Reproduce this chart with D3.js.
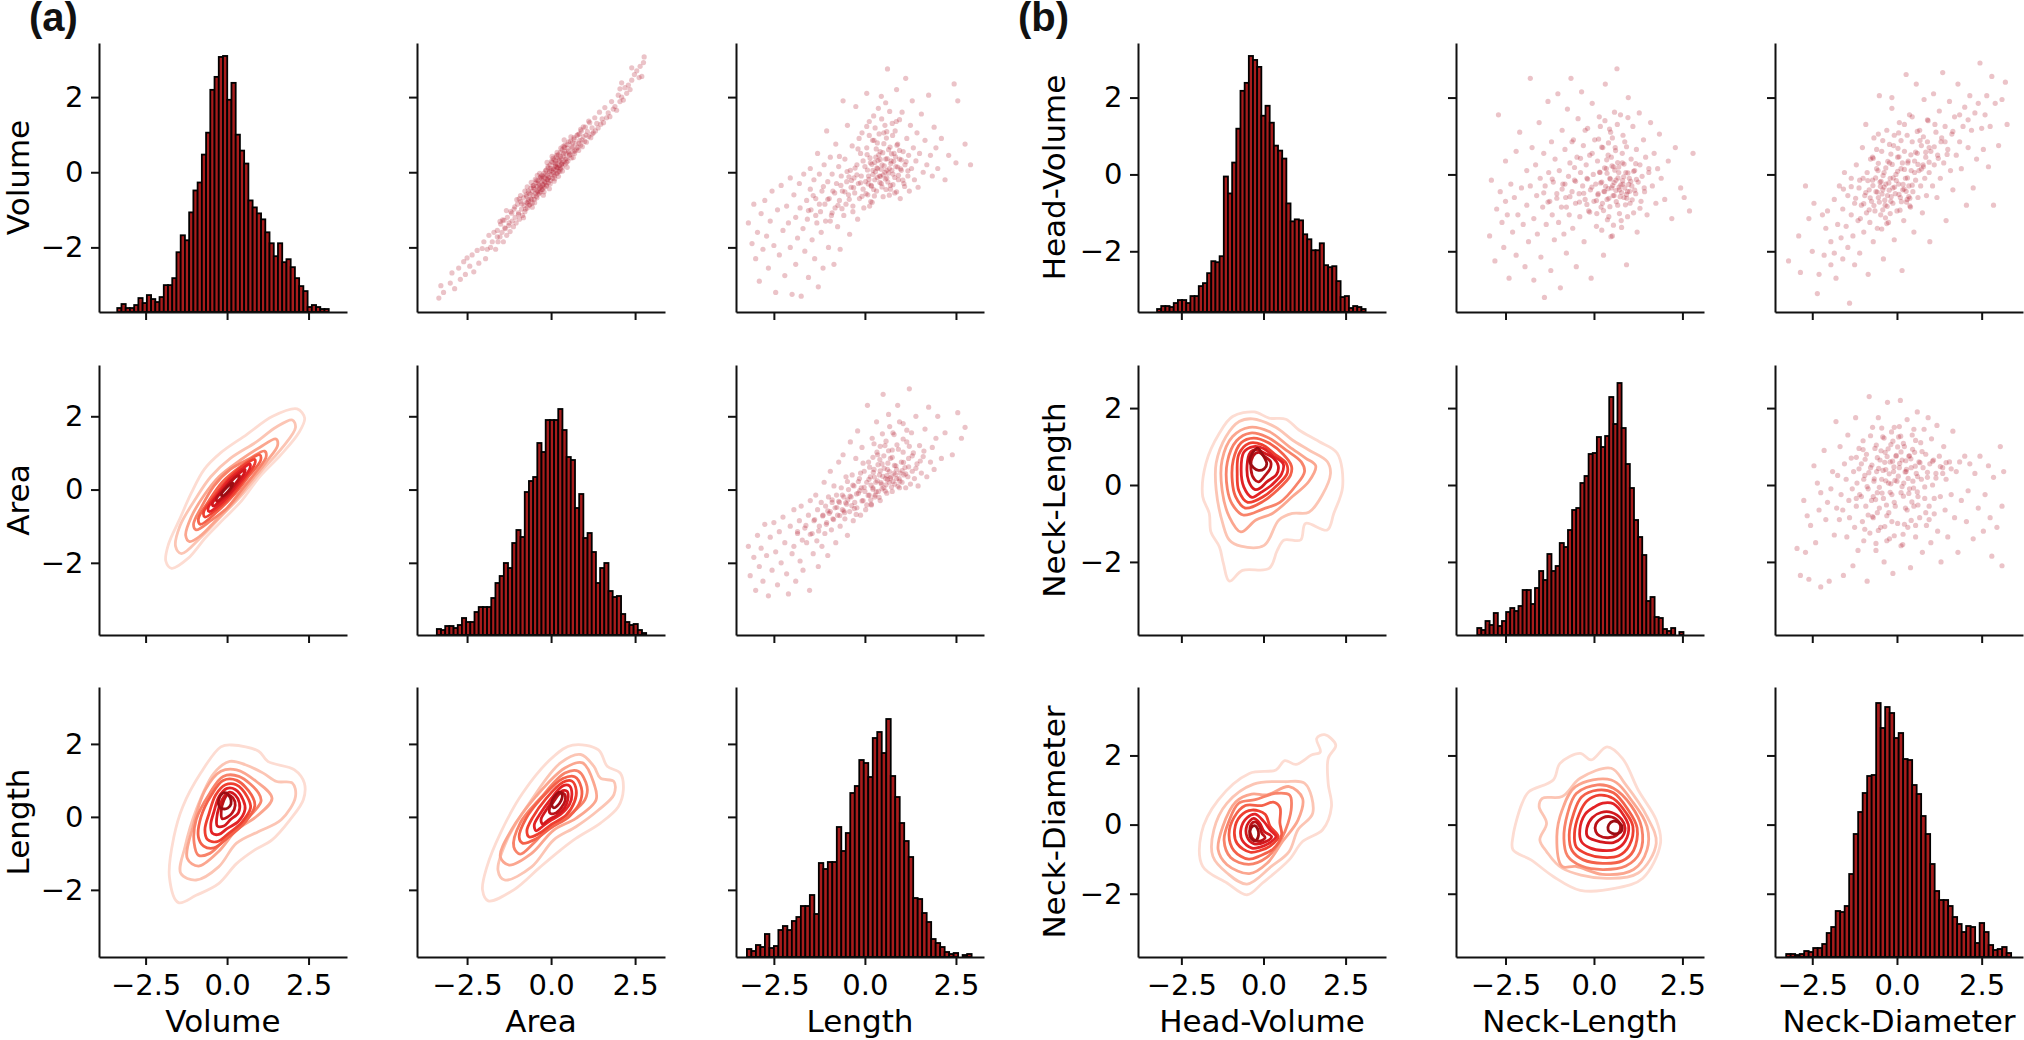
<!DOCTYPE html>
<html><head><meta charset="utf-8">
<script src="https://cdn.jsdelivr.net/npm/d3@7"></script>
<style>html,body{margin:0;background:#fff}svg{display:block}</style></head><body>
<svg id="c" width="2024" height="1040"></svg>
<script>
// ---------- labels and ticks
const variablesA=["Volume","Area","Length"];
const variablesB=["Head-Volume","Neck-Length","Neck-Diameter"];
const panelLetters=["(a)","(b)"];
const xTickValues=[-2.5,0,2.5];
const yTickValues=[-2,0,2];
// ---------- axis limits
const xLimits=[[-3.93,3.68],[-3.99,3.39],[-3.54,3.27],[-3.82,3.73],[-3.90,3.11],[-3.60,3.72]];
const yLimitsA=[[-3.72,3.44],[-3.97,3.40],[-3.84,3.56]];
const yLimitsB=[[-3.58,3.42],[-3.90,3.12],[-3.83,3.98]];
// ---------- histograms: bin range and bar heights
const histRangeVolume=[-3.37,3.12];
const histVolume=[4,8,4,4,7,14,9,17,13,10,15,27,27,34,60,77,72,100,122,130,158,180,223,236,256,257,213,230,178,162,149,112,105,99,93,80,69,56,69,50,53,45,34,26,21,5,7,5,3,3];
const histRangeArea=[-3.40,2.83];
const histArea=[6,5,9,9,7,10,17,13,13,23,28,28,28,37,52,59,72,67,92,105,98,143,154,158,192,183,215,215,215,226,205,178,175,127,141,97,102,83,52,67,72,44,38,39,21,13,10,11,5,2];
const histRangeLength=[-3.24,2.93];
const histLength=[8,6,12,10,23,9,11,27,31,27,36,40,51,51,62,43,94,88,95,95,130,106,124,164,171,197,194,180,219,225,204,238,181,160,134,116,100,59,58,44,35,18,14,10,5,3,4,0,2,3];
const histRangeHeadVolume=[-3.24,3.11];
const histHeadVolume=[3,6,6,5,9,12,12,9,16,16,26,29,39,51,50,56,136,119,150,184,222,230,257,253,246,197,207,190,167,162,154,109,91,93,92,78,73,62,62,69,47,45,46,31,15,16,4,6,5,3];
const histRangeNeckLength=[-3.30,2.53];
const histNeckLength=[7,5,14,10,22,9,14,23,27,24,29,45,45,31,47,64,55,81,64,69,92,88,105,125,127,152,159,181,182,198,188,199,238,211,252,207,171,147,115,98,80,34,38,18,17,6,4,7,0,3];
const histRangeNeckDiameter=[-3.27,3.37];
const histNeckDiameter=[3,3,2,3,6,5,9,9,13,24,30,46,45,51,83,123,145,164,181,182,254,229,250,244,219,224,198,197,172,163,141,123,93,66,57,57,51,40,33,25,31,30,14,34,25,12,7,8,10,4];
// ---------- contour rings, outermost first, flat x,y lists
const kdeAreaVolume=[
[-1.7,-2.15,-1.88,-1.95,-1.8,-1.5,-1.45,-.8,-1.1,-.1,-.7,.55,-.2,1,.6,1.5,1.4,2,2.15,2.2,2.38,1.95,2.2,1.55,1.65,.95,1,.35,.45,-.3,-.1,-.8,-.65,-1.3,-1.2,-1.88],
[-1.4,-1.75,-1.58,-1.55,-1.45,-1,-1,-.3,-.5,.35,.1,.85,.9,1.3,1.5,1.7,2,1.9,2.1,1.7,1.7,1.15,1.1,.55,.5,-.1,-.2,-.75,-.8,-1.3],
[-1.15,-1.42,-1.27,-1.25,-1.1,-.75,-.7,-.15,-.25,.35,.4,.8,1,1.15,1.5,1.38,1.55,1.2,1.2,.75,.7,.2,.2,-.35,-.35,-.85,-.8,-1.25],
[-.95,-1.1,-1.03,-.95,-.8,-.5,-.4,.1,.1,.55,.7,.85,1.15,1.05,1.2,.9,.9,.5,.45,0,0,-.5,-.5,-.85],
[-.82,-.95,-.88,-.8,-.55,-.3,-.15,.2,.4,.62,1,.95,1.03,.8,.65,.35,.25,-.1,-.3,-.6],
[-.68,-.75,-.72,-.62,-.4,-.2,0,.25,.45,.62,.85,.82,.85,.7,.5,.25,.15,-.15,-.3,-.52],
[-.55,-.6,-.58,-.5,-.3,-.15,.05,.25,.45,.55,.7,.7,.7,.58,.4,.2,.1,-.12,-.25,-.42],
[-.42,-.45,-.45,-.38,-.2,-.08,.1,.22,.4,.46,.55,.55,.53,.45,.3,.15,.08,-.1,-.2,-.3],
[-.3,-.32,-.33,-.26,-.12,-.02,.1,.2,.3,.36,.38,.38,.35,.28,.18,.08,.02,-.1,-.15,-.22],
[-.15,-.18,-.17,-.12,-.03,.04,.1,.15,.17,.18,.15,.1,.03,-.05]];
const kdeLengthVolume=[
[-1.49,-2.35,-1.77,-1.64,-1.63,-.54,-1.36,.28,-.81,1.2,-.19,1.92,.15,1.97,.97,1.8,1.25,1.52,2.07,1.29,2.37,.93,2.34,.47,1.93,-.08,1.38,-.63,.84,-.91,.29,-1.28,-.26,-1.83,-.95,-2.15],
[-.95,-1.73,-1.42,-1.55,-1.29,-.82,-.95,.19,-.4,1.2,.08,1.52,.56,1.43,1.11,1.2,1.52,.97,2,.93,2.1,.56,1.66,-.08,.97,-.4,.29,-.72,-.26,-1.37],
[-.88,-1.35,-1.22,-1.14,-1.05,-.27,-.67,.74,-.19,1.25,.29,1.29,.9,.97,1.38,.51,.9,.01,.29,-.36,-.26,-.95],
[-.88,-1.05,-1.01,-.72,-.95,-.08,-.53,.65,-.12,1.11,.36,1.11,.97,.65,1.04,.42,.63,-.04,.01,-.54,-.53,-1],
[-.72,-.8,-.88,-.55,-.8,0,-.48,.6,-.12,1,.3,1,.75,.6,.85,.3,.55,-.15,.05,-.55,-.4,-.85],
[-.6,-.62,-.68,-.35,-.55,.1,-.35,.6,-.05,.88,.28,.88,.62,.55,.72,.25,.45,-.15,.05,-.45,-.3,-.68],
[-.45,-.45,-.5,-.2,-.4,.15,-.25,.55,0,.78,.25,.75,.5,.45,.55,.2,.35,-.12,0,-.32,-.25,-.48],
[-.3,-.25,-.32,-.05,-.25,.25,-.1,.55,.08,.68,.25,.6,.38,.38,.35,.12,.1,-.08,-.1,-.25],
[-.15,-.05,-.18,.15,-.1,.45,.02,.6,.18,.52,.25,.32,.15,.1,.02,0],
[-.24,.28,-.26,.45,-.15,.64,-.03,.66,.1,.52,.12,.35,.02,.24,-.12,.22]];
const kdeLengthArea=[
[-1.87,-2.3,-2.04,-2,-1.91,-1.37,-1.51,-.45,-.85,.65,.08,1.66,.64,1.97,1.41,1.84,1.67,1.39,2.06,1.2,2.15,.74,2,.28,1.47,-.17,.74,-.59,.28,-.91,-.32,-1.37,-1.11,-2],
[-1.38,-1.73,-1.58,-1.46,-1.31,-.63,-.58,.47,.28,1.48,.88,1.71,1.27,1.39,1.47,1.06,1.87,.97,1.87,.61,1.41,.19,.74,-.27,.08,-.63,-.58,-1.37],
[-1.25,-1.32,-1.51,-1.09,-1.18,-.36,-.45,.56,.41,1.34,.94,1.48,1.27,.93,1.34,.47,.74,-.04,.08,-.36,-.58,-1],
[-.92,-1.02,-1.11,-.82,-.92,-.17,-.32,.51,.41,1.2,.81,1.25,1.07,.83,1.01,.47,.61,.1,-.05,-.27,-.52,-.72],
[-.85,-.72,-.95,-.55,-.75,-.05,-.25,.55,.35,1.05,.7,1.1,.9,.8,.88,.45,.55,.02,0,-.3,-.45,-.6],
[-.65,-.55,-.72,-.38,-.55,-.02,-.15,.5,.35,.95,.62,.98,.75,.72,.7,.42,.45,.05,.02,-.2,-.35,-.45],
[-.45,-.38,-.5,-.22,-.35,.05,0,.5,.35,.85,.55,.85,.62,.62,.55,.35,.3,.08,-.05,-.12,-.28,-.28],
[-.25,-.2,-.3,-.08,-.15,.18,.1,.5,.35,.72,.48,.7,.5,.48,.4,.25,.18,.05,-.08,-.08],
[-.03,.1,-.05,.22,.1,.45,.28,.65,.4,.62,.42,.45,.3,.25,.12,.1],
[.03,.3,.02,.42,.12,.58,.25,.68,.33,.62,.3,.45,.18,.3,.08,.25]];
const kdeNeckLengthHeadVolume=[
[-1.04,-2.5,-1.22,-2.04,-1.34,-1.61,-1.6,-1.22,-1.65,-.74,-1.85,-.3,-1.75,.57,-1.34,1.35,-.94,1.78,-.28,1.9,.17,1.74,.68,1.71,1.08,1.43,1.69,1.13,2.24,.83,2.41,-.04,2.14,-.74,1.94,-1.17,1.28,-1,1.13,-1.43,.63,-1.43,.42,-1.7,.17,-2.17,-.64,-2.22],
[-.69,-1.59,-1.04,-1.43,-1.24,-1,-1.44,-.13,-1.44,.57,-1.14,1.26,-.74,1.65,-.33,1.72,.37,1.5,.88,1.17,1.38,.91,1.94,.61,2.04,.3,1.79,-.26,1.38,-.71,.88,-.74,.47,-.91,.02,-1.57],
[-.69,-1.22,-1.04,-.83,-1.26,-.13,-1.26,.65,-.94,1.26,-.43,1.5,.17,1.39,.78,1,1.28,.7,1.59,.5,1.38,.09,.88,-.3,.27,-.74,-.23,-.91],
[-.62,-.78,-.95,-.5,-1.1,-.1,-1.1,.6,-.82,1.15,-.4,1.35,.1,1.25,.7,.9,1.15,.6,1.25,.35,1,0,.5,-.45,0,-.62],
[-.55,-.6,-.85,-.3,-.95,.1,-.92,.65,-.68,1.1,-.3,1.22,.15,1.1,.6,.8,.85,.5,.82,.25,.4,-.15,0,-.42],
[-.48,-.45,-.75,-.15,-.8,.3,-.75,.8,-.45,1.08,-.05,1.05,.35,.8,.7,.55,.72,.3,.4,-.02,0,-.3],
[-.35,-.32,-.6,-.05,-.68,.4,-.6,.85,-.3,1,0,.95,.3,.75,.6,.55,.55,.28,.25,0,-.05,-.18],
[-.25,-.12,-.45,.1,-.5,.5,-.4,.85,-.2,.92,.05,.82,.3,.7,.45,.5,.4,.28,.1,.08,-.1,-.08],
[-.28,.15,-.38,.4,-.32,.75,-.15,.85,.02,.75,.22,.6,.2,.42,.05,.25,-.15,.08],
[-.3,.45,-.42,.62,-.32,.85,-.18,.96,-.02,.78,.1,.55,.02,.42,-.15,.38]];
const kdeNeckDiameterHeadVolume=[
[-.5,-2.03,-1.11,-1.69,-1.85,-1.21,-1.89,-.25,-1.38,.71,-.43,1.48,.38,1.58,.65,1.85,.99,1.74,1.46,2.01,1.73,2.1,1.62,2.49,1.86,2.6,2.2,2.3,1.97,1.91,1.97,1.19,2.07,.52,1.8,-.15,1.19,-.49,.78,-1.02,-.03,-1.69],
[-.5,-1.72,-1.11,-1.4,-1.54,-.92,-1.51,-.15,-1.11,.62,-.3,1.17,.65,1.24,1.26,1.19,1.5,.33,1.05,-.15,.78,-.78,.24,-1.21],
[-.43,-1.42,-1.11,-1.16,-1.38,-.73,-1.24,-.06,-.84,.66,-.36,.88,.11,.86,.78,1.1,1.19,.76,1.05,.13,.58,-.49,.11,-1.12],
[-.45,-1.15,-1,-.95,-1.2,-.45,-1.05,.1,-.75,.62,-.25,.72,.35,.9,.8,.85,.85,.5,.75,.05,.55,-.4,.1,-.95],
[-.45,-1,-.9,-.75,-1.05,-.3,-.9,.2,-.55,.55,-.05,.55,.3,.65,.5,.5,.5,.05,.55,-.3,.3,-.7,-.1,-.9],
[-.4,-.8,-.8,-.55,-.88,-.15,-.7,.25,-.35,.42,.05,.3,.2,-.05,.45,-.35,.2,-.62,-.1,-.75],
[-.35,-.68,-.65,-.45,-.68,-.1,-.5,.2,-.25,.3,0,.1,.2,-.15,.38,-.35,.15,-.55,-.1,-.65],
[-.3,-.55,-.5,-.35,-.5,-.02,-.3,.18,-.12,.05,.02,-.2,.25,-.35,.05,-.5],
[-.28,-.45,-.4,-.25,-.38,0,-.25,.08,-.12,-.05,-.05,-.25,.05,-.38,-.12,-.48],
[-.32,-.45,-.42,-.3,-.38,-.1,-.28,-.03,-.18,-.12,-.15,-.3,-.22,-.45]];
const kdeNeckDiameterNeckLength=[
[-2.29,-.73,-2.29,-.35,-2.03,.62,-1.84,.95,-1.15,1.29,-.96,1.77,-.39,2.06,-.08,1.87,.37,2.25,.81,1.91,1.25,1,1.76,.13,1.88,-.54,1.38,-1.55,.62,-1.84,-.39,-1.9,-1.15,-1.5,-1.78,-1.02],
[-1.53,-.44,-1.34,.04,-1.55,.52,-1.46,.76,-.9,.81,-.39,1.34,.49,1.63,.87,1.19,1.5,.23,1.76,-.54,1.25,-1.4,.24,-1.55,-.9,-1.26,-1.34,-.78],
[-.9,-1.21,-1.05,-.35,-.9,.42,-.52,1.1,.49,1.29,1.12,.62,1.5,-.06,1.5,-.73,1.12,-1.3,.24,-1.44,-.52,-1.21],
[-.75,-.9,-.85,-.4,-.75,.3,-.5,.9,.1,1.15,.55,1.05,1.05,.55,1.35,-.1,1.3,-.8,.9,-1.2,.25,-1.3,-.35,-1.2],
[-.62,-.75,-.7,-.3,-.58,.3,-.35,.8,.1,1,.55,.92,.95,.45,1.22,-.1,1.12,-.75,.8,-1.05,.25,-1.12,-.3,-1.02],
[-.5,-.65,-.55,-.25,-.42,.3,-.2,.68,.15,.85,.55,.75,.9,.35,1.1,-.05,1,-.6,.7,-.9,.25,-.95,-.2,-.85],
[-.35,-.5,-.4,-.15,-.25,.3,0,.5,.25,.62,.55,.6,.85,.25,.98,-.05,.88,-.48,.6,-.72,.25,-.75,-.1,-.68],
[-.18,-.35,-.2,-.1,-.05,.2,.2,.35,.5,.35,.78,.15,.88,-.1,.78,-.38,.55,-.52,.2,-.5],
[.05,-.2,.05,0,.25,.2,.5,.22,.7,.08,.75,-.12,.65,-.3,.4,-.38,.15,-.32],
[.4,-.15,.42,0,.55,.1,.72,.05,.8,-.1,.75,-.22,.58,-.27,.45,-.22]];
const contourColours=["#fddcd2","#fcc5b4","#fba68f","#f8836a","#f4614a","#ee3f30","#e32326","#d3181d","#bb1218","#9c0d13"];
// ---------- scatter points estimated by eye, flat x,y lists
const scatterAreaVolume=[-3.34,-3.35,-3.28,-3.02,-3.2,-3.2,-3,-2.95,-2.95,-2.68,-2.87,-3.1,-2.75,-2.55,-2.7,-2.85,-2.6,-2.38,-2.55,-2.72,-2.5,-2.28,-2.42,-2.5,-2.35,-2.2,-2.3,-2.65,-2.2,-2.08,-2.15,-2.42,-2.05,-2.03,-2,-1.85,-1.95,-2.3,-1.9,-2.05,-1.85,-1.68,-1.8,-2,-1.75,-1.85,-1.7,-1.6,-1.65,-2.05,-1.6,-1.55,-1.58,-1.85,-1.52,-1.72,-1.5,-1.38,-1.46,-1.6,-1.42,-1.85,-1.4,-1.28,-1.36,-1.5,-1.32,-1.68,-1.3,-1.2,-1.26,-1.42,-1.22,-1.58,-1.2,-1.05,-1.16,-1.3,-1.12,-1.45,-1.1,-.98,-1.07,-1.2,-1.04,-1.35,-1,-.85,-.97,-1.08,-.94,-1.25,-.9,-.78,-.88,-.98,-.85,-1.15,-.82,-.68,-.8,-.88,-.78,-1.05,-.75,-.6,-.73,-.8,-.71,-.95,-.68,-.5,-.67,-.72,-.65,-.88,-.62,-.58,-.6,-.42,-.58,-.72,-.56,-.82,-.55,-.5,-.53,-.62,-.52,-.35,-.5,-.72,-.48,-.45,-.47,-.56,-.45,-.28,-.44,-.64,-.42,-.38,-.41,-.5,-.39,-.22,-.38,-.58,-.36,-.34,-.35,-.44,-.33,-.15,-.32,-.52,-.3,-.28,-.29,-.4,-.27,-.08,-.26,-.46,-.24,-.22,-.23,-.33,-.21,-.02,-.2,-.4,-.18,-.15,-.17,-.27,-.15,.06,-.14,-.34,-.12,-.08,-.11,-.2,-.09,.12,-.08,-.28,-.06,-.02,-.05,-.14,-.03,.2,-.02,-.22,0,.05,.01,-.06,.03,.26,.04,-.16,.06,.1,.07,0,.09,.33,.1,-.1,.12,.16,.13,.06,.15,.4,.16,-.04,.18,.22,.19,.12,.21,.46,.22,.02,.24,.3,.25,.18,.27,.52,.28,.08,.3,.36,.32,.22,.33,.6,.34,.14,.36,.42,.38,.28,.4,.66,.42,.22,.44,.5,.46,.36,.48,.74,.5,.3,.52,.56,.55,.45,.58,.82,.6,.38,.63,.65,.66,.54,.68,.92,.7,.5,.73,.76,.76,.62,.8,1,.82,.58,.85,.85,.88,.72,.9,1.1,.93,.68,.96,.95,1,.82,1.02,1.2,1.05,.8,1.08,1.08,1.12,.95,1.15,1.32,1.18,.92,1.22,1.18,1.26,1.05,1.3,1.45,1.32,1.1,1.36,1.3,1.4,1.18,1.44,1.6,1.48,1.28,1.52,1.42,1.56,1.32,1.6,1.72,1.65,1.45,1.7,1.58,1.75,1.48,1.8,1.88,1.85,1.68,1.9,1.75,1.95,1.65,2,2.05,2.05,1.88,2.1,2,2.15,1.92,2.2,2.25,2.05,2.22,2.25,2.1,2.3,2.32,2.1,2.38,2.35,2.2,2.4,2.45,2.4,2.78,2.48,2.6,2.55,2.7,2.62,2.52,2.65,2.82,2.7,2.55,2.75,2.92,2.77,3.07];
const scatterAreaVolumeCore=[-.31,-.12,.27,.11,-.63,-.86,.41,.72,-.14,-.37,.09,-.24,-1.02,-.73,.66,.39,-.47,-.19,.18,.53,-.82,-1.21,.52,.81,-.23,-.61,.34,.03,-.71,-.39,.03,.42,-1.17,-1.09,.77,.98,-.38,-.29,.14,.31,-.56,-.93,.46,.26,-.09,.16,-1.33,-1.02,.88,1.14,-.27,-.46,.22,-.11,-.66,-.55,.59,.94,-.18,-.08,.37,.49,-.91,-.62,.07,.07,-1.44,-1.27,.71,.57,-.42,-.68,.29,.64,-.03,-.31,-.76,-.98,.48,.13,-.12,.26,.96,1.21,-.52,-.41,.19,-.02,-1.25,-1.35,.62,.68,-.34,-.03,.39,.86,-.87,-.84,.06,.37,-.21,-.52,1.04,.99,-.6,-.71,.31,.21,-.05,-.44,.83,.77,-.44,-.22,.16,.45,-1.08,-.92,.53,.51,-.29,-.16,.24,.33,-.73,-.64,.11,-.17,-.16,.04,1.12,1.36,-.49,-.81,.43,.35,.01,.29,-.97,-1.12,.69,.88,-.35,-.55,.21,.12,-.59,-.27,.36,.69,-.08,-.15,-1.38,-1.48,.79,.66,-.25,-.34,.13,.19,-.68,-.77,.56,.47,-.02,.1,.92,.86,-.41,-.08,.28,.41,-.78,-.5,.08,-.05,-1.52,-1.31,.49,.64,-.19,-.25,.33,.25,-.95,-.71,.64,.78,-.11,-.19,.17,.14,-.54,-.36,1.22,1.02,-.33,-.4,.4,.56,-.05,.02,-.7,-.82,.26,.02,-1.6,-1.72,.84,1.02,-.4,-.52,.12,.24,-.24,-.12];
const scatterLengthVolume=[-3.2,-1.35,-3.1,-1.9,-3.05,-.85,-3,-2.3,-2.95,-1.6,-2.9,-2.9,-2.85,-1.1,-2.8,-2.05,-2.75,-.75,-2.7,-1.7,-2.65,-2.55,-2.6,-1.3,-2.55,-.5,-2.5,-1.95,-2.45,-3.2,-2.4,-1,-2.35,-2.2,-2.3,-.35,-2.25,-1.55,-2.2,-2.75,-2.15,-.9,-2.1,-1.35,-2.05,-.15,-2.05,-2,-2,-3.25,-1.95,-.6,-1.9,-1.2,-1.9,-2.45,-1.85,-1.75,-1.8,-.3,-1.78,-.95,-1.75,-3.3,-1.7,-1.5,-1.68,-.05,-1.65,-2.1,-1.6,-.75,-1.58,-1.25,-1.55,-2.8,-1.5,.1,-1.5,-.45,-1.48,-1,-1.45,-1.8,-1.4,-.2,-1.38,-2.3,-1.35,-.7,-1.32,-1.35,-1.3,.5,-1.28,-3.05,-1.25,-.05,-1.22,-1.05,-1.2,-1.6,-1.18,-.5,-1.15,-2.55,-1.12,.2,-1.1,-.85,-1.08,-1.3,-1.05,1.1,-1.02,-.25,-1,-2,-.98,-.7,-.95,.4,-.92,-1.15,-.9,-.05,-.88,-.5,-.85,-2.45,-.82,-.95,-.8,.75,-.78,-.3,-.75,-1.45,-.72,.15,-.7,-.75,-.68,-2.05,-.65,-.1,-.62,-.5,-.6,1.9,-.58,-1.15,-.55,.35,-.52,-.85,-.5,-.25,-.48,1.25,-.45,-.6,-.42,-1.65,-.4,.05,-.38,-.4,-.35,.7,-.33,-.9,-.3,-.15,-.28,-.55,-.25,1.75,-.22,.2,-.2,-1.25,-.18,-.3,-.15,-.7,-.12,.5,-.1,-.1,-.08,1.05,-.05,-.45,-.03,-.95,0,.15,.02,-.25,.05,2.1,.05,.65,.08,-.6,.1,-.1,.12,1.35,.15,.25,.17,-.35,.2,-.8,.22,.05,.25,.85,.27,-.2,.3,.4,.32,-.5,.35,.1,.37,1.7,.4,-.1,.42,.55,.45,-.3,.47,.2,.5,-.65,.52,1.05,.55,0,.57,.35,.6,-.15,.62,2.75,.65,.6,.67,.1,.7,-.35,.72,.3,.75,1.3,.77,-.05,.8,.5,.82,-.55,.85,.15,.87,2.2,.9,.75,.92,-.2,.95,.35,.97,-.7,1,.05,1.02,1.6,1.05,.55,1.07,-.3,1.1,.2,1.12,2.5,1.15,.9,1.18,-.1,1.2,.45,1.22,-.5,1.25,1.25,1.28,.1,1.3,1.9,1.33,.65,1.36,-.2,1.4,.3,1.43,1.05,1.46,-.4,1.5,.5,1.55,1.55,1.6,0,1.65,.85,1.7,.2,1.75,2.05,1.8,.45,1.85,-.1,1.9,1.2,1.95,.65,2,.1,2.1,.9,2.2,-.2,2.3,.45,2.45,2.35,2.5,.25,2.55,1.9,2.75,.75,2.9,.2];
const scatterLengthVolumeCore=[.43,-.11,.71,.23,.18,-.37,.92,-.08,.36,.31,.58,-.46,.07,.06,.84,.41,.26,-.63,.65,-.02,.49,.52,1.04,-.21,-.12,-.28,.33,.12,.77,-.33,.53,.17,.14,.38,.98,.09,.41,-.27,-.31,-.41,.69,.67,.22,-.06,.87,-.52,.56,-.18,.03,-.57,1.13,.28,.38,.46,.74,.05,-.22,-.07,.47,-.39,.61,.36,.11,-.19,.95,.58,.29,.01,.82,-.14,-.43,-.72,.52,.76,.67,-.61,.19,.21,1.09,-.38,.45,.08,-.37,-.22,.79,.29,.24,-.46,.59,.91,.34,-.14,.9,.14,.06,.47,.63,-.26,-.55,-.52,.42,.34,1.18,.04,.16,-.78,.73,.49,.31,.62,-.08,-.64,.5,-.07,.88,.72,-.66,-.35,.27,.26,.6,.05,.09,-.31,1,.33,.39,1.02,-.27,.11,.7,-.45,-.74,-.88,.21,.85,.55,1.25,-.49,.02,.83,1.1,.13,-.9,.46,1.42,-.83,-.55,.68,1.62,-.19,.62,.28,1.18,-1.02,-.72,.76,.98,-.9,-1.08,.57,1.85,.12,.98,-.33,-1.05,.95,1.4,-1.14,-.38,.34,.78,-.63,-.97,.86,1.35,.05,1.22,-1.25,-.85,.6,1.08,-.44,-.12,-1.35,-1.15,.24,1.5,-.7,.42,-1.42,-.62,-.16,.9,-.95,-1.3,.45,2.02,-.05,.3,-1.55,-1.02];
const scatterLengthArea=[-3.2,-1.55,-3.15,-2.35,-3.05,-1.85,-3,-2.75,-2.95,-1.25,-2.9,-2.1,-2.85,-1.6,-2.8,-2.5,-2.75,-.95,-2.7,-1.8,-2.65,-2.9,-2.6,-1.3,-2.55,-2.2,-2.5,-.9,-2.45,-1.7,-2.4,-2.6,-2.35,-1.15,-2.3,-2,-2.25,-.75,-2.2,-1.45,-2.15,-2.3,-2.1,-2.85,-2.05,-1,-2,-1.75,-1.95,-.55,-1.9,-2.5,-1.85,-1.2,-1.8,-.85,-1.78,-1.95,-1.75,-.45,-1.7,-2.2,-1.65,-1.05,-1.6,-1.45,-1.55,-.7,-1.52,-2.75,-1.5,-.3,-1.45,-1.2,-1.42,-1.75,-1.4,-.85,-1.35,-.15,-1.32,-1.4,-1.3,-.55,-1.28,-2.1,-1.25,-1,-1.2,-.35,-1.18,-1.55,-1.15,-.7,-1.12,.2,-1.1,-1.2,-1.08,-.45,-1.05,-.9,-1.02,-1.8,-1,-.2,-.98,-.65,-.95,.5,-.92,-1.1,-.9,-.35,-.88,-.8,-.85,.1,-.82,-.5,-.8,-1.45,-.78,-.15,-.75,-.7,-.72,.75,-.7,-.35,-.68,-1,-.65,.05,-.62,-.55,-.6,.95,-.58,-.2,-.55,-.8,-.52,.35,-.5,-.4,-.48,-1.25,-.45,0,-.42,-.6,-.4,1.3,-.38,-.2,-.35,.4,-.32,-.85,-.3,.1,-.28,-.35,-.25,.85,-.22,-.5,-.2,1.6,-.18,-.1,-.15,.3,-.12,-.7,-.1,.05,-.08,1.15,-.05,-.3,-.02,.5,0,-.05,.02,-.55,.05,.2,.07,2.3,.1,.75,.12,-.15,.15,.35,.17,-.4,.2,1.4,.22,.05,.25,.55,.27,-.2,.3,.2,.32,1.85,.35,.95,.37,-.05,.4,.4,.42,-.3,.45,.15,.47,.7,.5,2.6,.52,.05,.55,1.2,.57,.3,.6,-.1,.62,.55,.65,2.05,.67,.2,.7,.85,.72,.35,.75,-.05,.77,1.55,.8,.45,.82,.15,.85,.65,.87,.3,.9,2.3,.92,1.1,.95,.05,.97,.45,1,.75,1.02,.2,1.05,1.8,1.07,.4,1.1,.6,1.12,.05,1.15,1.3,1.18,.35,1.2,.85,1.22,2.75,1.25,.15,1.28,1.55,1.3,.5,1.33,1,1.36,.3,1.4,2,1.43,.7,1.46,.1,1.5,1.2,1.55,.45,1.6,.9,1.65,1.65,1.7,.35,1.75,2.25,1.8,.75,1.85,1.15,1.9,.55,1.95,1.4,2,2,2.1,.85,2.2,1.55,2.4,.95,2.55,2.1,2.65,1.4,2.75,1.7];
const scatterLengthAreaCore=[.62,.27,.31,-.06,.84,.41,.17,.12,.53,.58,.96,.23,-.08,-.31,.44,.19,.73,.07,.26,.34,-.23,-.12,.67,.49,.09,-.16,1.02,.52,.39,-.21,.58,.13,-.36,-.44,.81,.66,.22,.01,.49,.36,-.14,-.03,.91,.09,.34,.24,-.47,-.28,.7,.31,.11,.28,.56,-.04,1.12,.43,-.29,-.52,.42,.51,.77,.22,-.02,.06,.63,.72,.28,-.15,-.56,-.63,.87,.55,.47,.02,.16,-.28,1.06,.74,-.41,-.18,.6,.38,-.18,.22,.36,.68,-.69,-.71,.94,.3,.05,-.42,.52,.92,-.53,-.36,.75,.88,-.77,-.49,.23,.47,1.2,.62,-.86,-.82,.41,.82,-.62,-.15,.65,1.06,-.95,-.6,.13,.61,1.3,.92,-1.06,-.95,.88,1.22,-.33,.12,.33,1.02,-1.16,-.72,1.05,1.02,-.72,-.32,.58,1.32,-1.27,-1.13,.22,.88,1.22,1.18,-.9,-.28,.8,1.5,-1.38,-.82,.42,1.18,1.4,.58,-1.02,-.58,.68,1.72,-1.5,-1.22,1.05,1.38,-.48,.22,.95,1.85,-1.62,-.98,1.52,.78,-.12,.45,.25,1.25,-1.72,-1.38,.48,1.52,1.62,1.05,-.58,-.58,.75,1.08,-1.85,-1.15,.18,-.42,1.15,1.62,-.05,.72,-1.95,-1.55,-.24,-.68];
const scatterNeckLengthHeadVolume=[-2.95,-1.6,-2.9,-.15,-2.8,-2.25,-2.75,-.9,-2.7,1.55,-2.65,-.45,-2.6,-1.25,-2.55,-1.9,-2.5,.35,-2.5,-.7,-2.45,-1.05,-2.4,-2.7,-2.35,-.25,-2.3,-1.5,-2.25,-.6,-2.2,-2.1,-2.2,.6,-2.15,-1.05,-2.1,1.1,-2.05,-.35,-2,-1.3,-1.95,-2.4,-1.9,.1,-1.9,-.8,-1.85,-1.75,-1.8,2.5,-1.8,-.3,-1.75,.7,-1.7,-1.15,-1.7,-2.75,-1.65,.25,-1.62,-.55,-1.6,-1.55,-1.55,1.35,-1.52,-.1,-1.5,-2.15,-1.45,-.85,-1.42,.55,-1.4,-3.2,-1.38,-.3,-1.35,-1.3,-1.3,1.9,-1.28,.05,-1.25,-.7,-1.22,-2.5,-1.2,.85,-1.18,-1.05,-1.15,-.2,-1.12,-1.7,-1.1,.4,-1.05,-.5,-1.02,2.1,-1,-1.25,-.98,.1,-.95,-2.95,-.92,-.85,-.9,1.15,-.88,-.25,-.85,-1.55,-.82,.65,-.8,-.6,-.78,-2.05,-.75,1.7,-.72,-.05,-.7,-1.05,-.68,.3,-.65,2.5,-.62,-.45,-.6,-1.4,-.58,.9,-.55,-.15,-.52,-.75,-.5,-2.4,-.48,.45,-.45,1.45,-.42,-.5,-.4,-1.1,-.38,.05,-.35,2.15,-.32,-.3,-.3,.75,-.28,-1.75,-.25,-.65,-.22,.25,-.2,-.1,-.18,1.2,-.15,-.95,-.12,.5,-.1,-.4,-.08,-2.7,-.05,1.85,-.02,0,0,-.7,.02,.9,.05,-.25,.07,-1.35,.1,.35,.12,-.5,.15,1.5,.17,.05,.2,-.85,.22,-.2,.25,.7,.27,-2.1,.3,-.45,.32,2.35,.35,.15,.37,-.65,.4,.5,.42,-1.1,.45,-.1,.47,1.1,.5,-.35,.52,-1.6,.55,.2,.57,-.55,.6,.7,.62,-.15,.65,2.75,.67,-.8,.7,.05,.72,-.4,.75,1.55,.77,-1.2,.8,.3,.82,-.25,.85,-.6,.87,.85,.9,.05,.92,-2.35,.95,-.45,.97,2,1,-.1,1.02,-.75,1.05,.4,1.07,-.3,1.1,1.25,1.12,-1,1.15,.1,1.18,-.5,1.2,.65,1.22,-1.5,1.25,-.2,1.28,1.6,1.3,.25,1.33,-.7,1.36,-.05,1.4,.9,1.43,-.45,1.46,.45,1.5,-1.05,1.55,.05,1.6,1.35,1.65,-.3,1.7,.55,1.75,-.75,1.8,.15,1.85,1.05,1.9,-.1,2,-.65,2.1,.35,2.2,-1.15,2.3,.7,2.45,-.35,2.55,-.6,2.7,-.95,2.8,.55];
const scatterNeckLengthHeadVolumeCore=[.71,-.33,.46,-.12,.92,-.52,.28,-.44,1.04,-.18,.63,-.71,.37,.03,.84,-.06,.53,-.29,1.15,-.41,.19,-.22,.78,-.47,.59,.11,.98,-.26,.42,-.62,.68,-.09,1.08,-.66,.24,-.75,.87,-.35,.51,.22,.74,-.58,.33,-.31,.96,.04,.62,-.42,1.2,-.13,.11,-.53,.81,-.16,.45,-.84,.57,-.21,.89,-.79,.3,.17,.67,.31,1.01,-.44,.4,-.37,.76,-.27,.16,.06,.93,-.62,.54,-.55,1.12,.08,.27,-.94,.7,.19,-.06,-.33,.49,.45,.85,.27,.07,-.68,.61,.62,.36,.38,1.18,.28,-.18,-.12,.8,.55,.22,.71,.52,.95,-.29,-.49,.92,.72,.44,1.18,.13,.92,.66,1.3,-.41,-.72,.31,1.4,.82,1.02,-.05,.55,.58,1.62,-.52,-.18,.18,1.25,.41,.82,.96,1.48,-.68,-.58,.72,-1.02,.38,-1.18,-.78,-.85,.08,-1.02,.55,-1.32,-.9,-.38,.95,-1.1,.22,-1.45,-1.05,-.62,-.2,-.78,.78,-1.38,-1.18,-.12,1.3,-.88,-.55,.18,.48,-1.62,-1.3,-.72,1.42,-.35,-.38,.42,-.12,-.98,-.62,.85,1.55,.15,-1.42,-.48,-.82,-.25,-.25,1.15];
const scatterNeckDiameterHeadVolume=[-3.2,-2.25,-2.9,-1.6,-2.85,-2.55,-2.7,-.3,-2.6,-1.15,-2.5,-2,-2.45,-.75,-2.35,-3.1,-2.3,-2.6,-2.2,-1.05,-2.15,-2.1,-2.1,-1.4,-2.05,-.95,-1.95,-1.75,-1.95,-2.35,-1.85,-.65,-1.85,-2.05,-1.8,-2.7,-1.75,-1.3,-1.7,-.3,-1.65,-1.65,-1.6,-2.2,-1.6,-.9,-1.55,.05,-1.5,-1.35,-1.45,-1.9,-1.45,-.55,-1.4,-3.35,-1.35,-1.05,-1.35,-.1,-1.3,-1.6,-1.25,-2.35,-1.25,-.75,-1.2,.25,-1.15,-1.2,-1.12,-.35,-1.1,-2.05,-1.05,-.8,-1.02,.7,-1,-.1,-.98,-1.5,-.95,-.55,-.92,1.3,-.9,-1,-.88,.05,-.85,-2.6,-.82,-.4,-.8,-1.25,-.78,.4,-.75,-.7,-.72,-.15,-.7,-1.75,-.68,.95,-.65,-.95,-.62,-.45,-.6,.15,-.58,-1.4,-.55,-.6,-.52,2.05,-.5,-.2,-.48,-1.05,-.45,.6,-.42,-.4,-.4,-2.2,-.38,.05,-.35,-.8,-.33,-.25,-.3,1.15,-.28,-.55,-.25,-1.25,-.22,.3,-.2,-.1,-.18,-.7,-.15,2,-.12,-.35,-.1,.75,-.08,-1.7,-.05,-.5,-.03,0,0,-.95,.02,.45,.05,-.25,.07,1.35,.1,-.6,.12,.15,.15,-2.5,.17,-.4,.2,-1.2,.22,.6,.25,-.1,.27,2.6,.3,-.65,.32,.3,.35,-.3,.37,1.55,.4,-.85,.42,.1,.45,.85,.47,-.45,.5,-1.5,.52,.35,.55,-.15,.57,2.35,.6,.55,.62,-.6,.65,.1,.67,1.15,.7,-.3,.72,.75,.75,-1,.77,.25,.8,1.95,.82,-.1,.85,.45,.87,-.55,.9,.85,.92,1.4,.95,.05,.97,-1.75,1,.6,1.05,-.3,1.08,2.1,1.1,.25,1.15,1.1,1.18,-.6,1.2,.5,1.25,1.65,1.28,-.1,1.3,.85,1.35,2.65,1.38,.3,1.42,1.25,1.45,-1.2,1.5,.65,1.55,1.9,1.58,.1,1.62,1.05,1.65,-.4,1.7,1.5,1.75,.5,1.8,2.35,1.85,.85,1.9,.15,1.95,1.25,2,1.75,2.05,-.8,2.1,.7,2.15,2.05,2.2,1.15,2.25,-.35,2.3,1.6,2.35,.4,2.4,1.85,2.45,2.9,2.5,1.2,2.55,.65,2.6,1.55,2.65,2.05,2.7,.2,2.75,1.25,2.8,2.55,2.85,-.8,2.9,1.85,3,.75,3.1,1.95,3.2,2.4,3.25,1.3];
const scatterNeckDiameterHeadVolumeCore=[-.23,-.41,-.47,-.18,.06,-.52,-.36,-.67,-.11,-.09,-.58,-.46,.18,-.26,-.29,-.83,-.71,-.29,.02,.08,-.41,-.03,-.17,-.58,.27,-.44,-.52,-.72,-.07,-.33,-.33,.17,.13,-.71,-.63,-.09,-.24,-.22,.31,-.09,-.44,-.51,-.14,.26,-.79,-.61,.09,-.93,-.38,-.33,.22,.13,-.56,.1,-.2,-1.02,-.02,-.16,.38,-.62,-.49,-.31,-.27,.34,.16,.3,-.68,-.81,.45,-.28,-.12,-.75,-.86,-.16,.06,.46,-.34,-1.13,.33,.35,-.55,.29,.52,.05,-.92,-.47,.21,-.38,-.18,.53,-.42,-.92,.41,.51,.62,.26,-.7,.42,.03,.68,-.98,-.76,.28,-.72,.55,.58,-.22,.78,.72,.14,-.3,-1.28,.85,.58,.12,.88,-1.1,-.15,.68,.88,.95,.32,-.6,.65,.38,-.82,.3,1.02,1.1,.72,-.08,1.02,.78,.2,-1.22,-.62,.6,1.12,1.22,.42,-.82,-.92,.95,.7,.22,1.3,1.32,.95,-.45,-1.42,1.48,.52,.45,1.5,-1.35,-.32,1.12,1.3,.78,.98,-.42,.88,1.65,1.12,.05,1.08,-1.08,-1.15,.35,-.58,1.42,.85,-.15,1.72,.9,1.42,-.72,.45,-1.58,-.38,1.85,1.55,2.1,1.42,-.55,1.05];
const scatterNeckDiameterNeckLength=[-2.95,-1.65,-2.85,-2.35,-2.75,-.4,-2.7,-1.75,-2.65,-.8,-2.6,-2.45,-2.55,-1.05,-2.45,.5,-2.4,-1.5,-2.35,.05,-2.3,-.65,-2.25,-.2,-2.25,-2.65,-2.15,.9,-2.1,-.9,-2.05,-.45,-2,-2.5,-1.95,-.1,-1.9,.35,-1.85,-1.3,-1.8,1.65,-1.78,-.6,-1.75,.25,-1.7,-.9,-1.68,1,-1.65,-.25,-1.6,-.65,-1.58,-2.35,-1.55,.55,-1.5,.15,-1.48,-1.35,-1.45,1.3,-1.42,-.4,-1.4,-.85,-1.35,.7,-1.32,-.1,-1.3,-2.1,-1.28,.35,-1.25,-1.1,-1.22,1.75,-1.2,-.55,-1.18,.05,-1.15,-1.7,-1.12,.95,-1.1,-.25,-1.05,.55,-1.02,-.95,-1,1.15,-.98,-1.45,-.95,.25,-.92,-.55,-.9,.8,-.88,-2.5,-.85,-.1,-.82,2.3,-.8,-1.25,-.78,.45,-.75,-.4,-.72,1.5,-.7,-.85,-.68,.1,-.65,.95,-.62,-1.7,-.6,.35,-.58,-.2,-.55,1.75,-.52,-.6,-.5,.65,-.48,-1.1,-.45,.15,-.42,1.25,-.4,-.35,-.38,-2,-.35,.85,-.33,.4,-.3,-.8,-.28,2.15,-.25,.05,-.22,-1.4,-.2,.6,-.18,1.05,-.15,-.25,-.12,-2.3,-.1,.35,-.08,1.5,-.05,-.55,-.03,.75,0,.1,.02,-1,.05,1.25,.07,.45,.1,2.2,.12,-.2,.15,.65,.17,-1.55,.2,.05,.22,1,.25,-.6,.27,.35,.3,1.7,.32,-1.1,.35,.75,.37,-.1,.4,-2.15,.42,.45,.45,1.3,.47,.1,.5,-.55,.52,.85,.55,-1.35,.57,.3,.6,1.9,.62,-.3,.65,.6,.67,-.85,.7,1.1,.72,.15,.75,-1.75,.77,.45,.8,1.45,.82,-.35,.85,.8,.87,-1.05,.9,.2,.92,1.75,.95,-.55,.97,.55,1,-1.5,1.02,1.2,1.05,0,1.08,.65,1.1,-.75,1.15,.3,1.18,1.55,1.2,-1.2,1.25,.75,1.28,-.3,1.3,-2,1.35,.45,1.38,1,1.42,-.65,1.45,.15,1.5,-1.35,1.55,.6,1.6,-.25,1.65,1.4,1.7,-.85,1.75,.35,1.8,-1.75,1.85,.6,1.9,-.4,2,.75,2.05,-.95,2.1,-.15,2.15,.55,2.25,-1.4,2.3,.3,2.4,-.6,2.45,.75,2.55,-1.2,2.6,-.25,2.7,.5,2.75,-.85,2.8,-1.85,2.85,.2,2.95,-1.1,3.05,1,3.1,-.55,3.1,-2.1,3.15,.35];
const scatterNeckDiameterNeckLengthCore=[-.13,.62,-.41,.38,.12,.86,-.26,.94,.28,.41,-.58,.71,.04,.23,-.33,.11,.41,.68,-.09,.47,-.67,.16,.19,1.08,-.47,.89,.33,.17,-.18,.03,-.74,.52,.08,.56,-.36,.59,.46,.93,-.02,.77,-.52,-.06,.24,.34,-.23,.29,.54,.49,-.83,.32,-.12,1.14,.37,.76,-.61,1.04,.15,-.04,-.29,.74,-.44,-.21,.61,.22,-.94,.67,.02,.99,-.2,-.19,.49,-.08,-.54,.43,.26,.63,-.7,-.3,.11,1.27,-.38,1.22,.68,.58,-.06,.12,-.88,-.04,.35,-.22,-.16,1.38,-.63,-.38,.55,1.16,-1,.92,.19,-.29,-.31,-.52,.74,.87,-.78,1.28,.44,-.44,-.08,-.45,-.98,.15,.6,-.18,-.45,1.48,.9,.33,-.24,-.72,.07,1.52,-1.12,.42,.3,-.65,.82,-.05,-.58,-.72,.5,1.45,-.15,-.95,-1.05,-.3,1.05,.62,-.36,-1.08,.62,-.52,-.72,-.82,1.15,.18,.22,-1.02,-.85,-.78,1.28,.48,.42,-.92,-1.2,.72,1.35,.3,-.55,-1.18,.85,-.72,-.08,-1.32,1.45,.58,.18,-1.28,-.95,-1.15,1.1,-.35,-.3,-1.45,.55,-1.05,1.6,.42,-.62,-1.52,.95,-.9,-1.2,-.35,.12,-1.58];
const contourWidth=2.8;
// ---------- drawing
const svg=d3.select("#c");
const colLeft=[99,417,736,1138,1456,1775], colWidth=248;
const rowTop=[43,365,687], rowHeight=[269,270,270];
const pairs=a=>d3.range(0,a.length,2).map(i=>[a[i],a[i+1]]);

function panel(col,row,yLim,hasXLabels,hasYLabels,draw){
  const x=d3.scaleLinear().domain(xLimits[col]).range([colLeft[col],colLeft[col]+colWidth]);
  const y=d3.scaleLinear().domain(yLim[row]).range([rowTop[row]+rowHeight[row],rowTop[row]]);
  draw(svg.append("g"),x,y,row);
  const ax=svg.append("g").attr("transform",`translate(0,${rowTop[row]+rowHeight[row]})`)
    .call(d3.axisBottom(x).tickValues(xTickValues).tickSize(8).tickSizeOuter(0).tickPadding(9.5).tickFormat(hasXLabels?d3.format(".1f"):""));
  const ay=svg.append("g").attr("transform",`translate(${colLeft[col]},0)`)
    .call(d3.axisLeft(y).tickValues(yTickValues).tickSize(8).tickSizeOuter(0).tickPadding(7.5).tickFormat(hasYLabels?d3.format("d"):""));
  for(const a of [ax,ay]){
    a.selectAll("path,line").attr("stroke","#111").attr("stroke-width",2);
    a.selectAll("text").attr("font-family","DejaVu Sans").attr("font-size",29).attr("fill","#000");
  }
}
function hist(values,range){
  return (g,x,y,row)=>{
    const h=d3.scaleLinear().domain([0,270]).range([rowTop[row]+rowHeight[row],rowTop[row]]);
    const edge=d3.scaleLinear().domain([0,values.length]).range(range);
    g.selectAll("rect").data(values).join("rect")
      .attr("x",(d,i)=>x(edge(i))).attr("width",(d,i)=>x(edge(i+1))-x(edge(i)))
      .attr("y",d=>h(d)).attr("height",d=>h(0)-h(d))
      .attr("fill","#a81c1c").attr("stroke","#000").attr("stroke-width",1.8);
  };
}
function scatter(values,core){
  return (g,x,y)=>{
    g.selectAll("circle").data(pairs(values.concat(core))).join("circle")
      .attr("cx",d=>x(d[0])).attr("cy",d=>y(d[1])).attr("r",2.6)
      .attr("fill","#b2182b").attr("fill-opacity",.26);
  };
}
function kde(rings){
  return (g,x,y)=>{
    const line=d3.line().x(d=>x(d[0])).y(d=>y(d[1])).curve(d3.curveCatmullRomClosed.alpha(.5));
    g.selectAll("path").data(rings).join("path")
      .attr("d",r=>line(pairs(r))).attr("fill","none")
      .attr("stroke",(r,i)=>contourColours[i]).attr("stroke-width",contourWidth);
  };
}
const gridA=[[hist(histVolume,histRangeVolume),scatter(scatterAreaVolume,scatterAreaVolumeCore),scatter(scatterLengthVolume,scatterLengthVolumeCore)],
 [kde(kdeAreaVolume),hist(histArea,histRangeArea),scatter(scatterLengthArea,scatterLengthAreaCore)],
 [kde(kdeLengthVolume),kde(kdeLengthArea),hist(histLength,histRangeLength)]];
const gridB=[[hist(histHeadVolume,histRangeHeadVolume),scatter(scatterNeckLengthHeadVolume,scatterNeckLengthHeadVolumeCore),scatter(scatterNeckDiameterHeadVolume,scatterNeckDiameterHeadVolumeCore)],
 [kde(kdeNeckLengthHeadVolume),hist(histNeckLength,histRangeNeckLength),scatter(scatterNeckDiameterNeckLength,scatterNeckDiameterNeckLengthCore)],
 [kde(kdeNeckDiameterHeadVolume),kde(kdeNeckDiameterNeckLength),hist(histNeckDiameter,histRangeNeckDiameter)]];
[0,1,2].forEach(r=>[0,1,2].forEach(c=>{
  panel(c,r,yLimitsA,r===2,c===0,gridA[r][c]);
  panel(c+3,r,yLimitsB,r===2,c===0,gridB[r][c]);
}));
const labelFont=s=>s.attr("font-family","DejaVu Sans").attr("font-size",31).attr("fill","#000");
[...variablesA,...variablesB].forEach((v,i)=>{
  svg.append("text").attr("x",colLeft[i]+colWidth/2).attr("y",1032).attr("text-anchor","middle").text(v).call(labelFont);
  const r=i%3, lx=i<3?29:1065, ly=rowTop[r]+rowHeight[r]/2;
  svg.append("text").attr("transform",`translate(${lx},${ly}) rotate(-90)`).attr("text-anchor","middle").text(v).call(labelFont);
});
panelLetters.forEach((t,i)=>svg.append("text").attr("x",i?1018:29).attr("y",31)
  .attr("font-family","Liberation Sans").attr("font-weight","bold").attr("font-size",40).attr("fill","#111").text(t));
</script></body></html>
